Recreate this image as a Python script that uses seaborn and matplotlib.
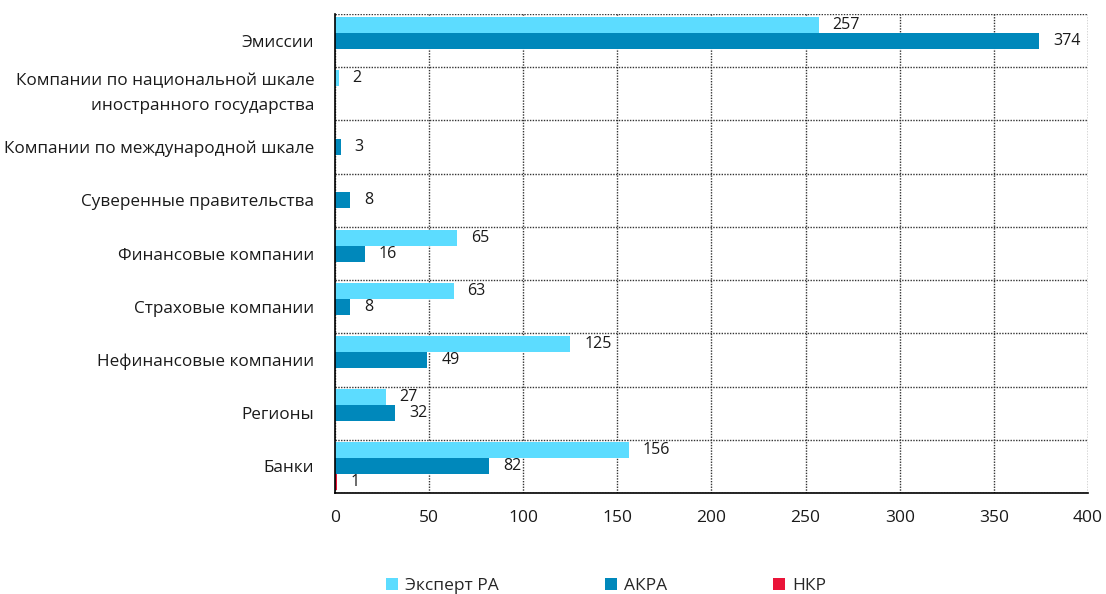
import pandas as pd
import matplotlib
matplotlib.use("Agg")
import matplotlib.pyplot as plt
import seaborn as sns
from matplotlib.patches import Patch
from matplotlib.ticker import FixedLocator

# categories, top to bottom
categories = ['Эмиссии',
              'Компании по национальной шкале\nиностранного государства',
              'Компании по международной шкале',
              'Суверенные правительства',
              'Финансовые компании',
              'Страховые компании',
              'Нефинансовые компании',
              'Регионы',
              'Банки']
agencies = ['Эксперт РА', 'АКРА', 'НКР']
expert_ra = [257, 2, 0, 0, 65, 63, 125, 27, 156]
akra = [374, 0, 3, 8, 16, 8, 49, 32, 82]
nkr = [0, 0, 0, 0, 0, 0, 0, 0, 1]
colors = ['#5cdcff', '#0088bb', '#ea1439']

df = pd.DataFrame({
    'category': categories * 3,
    'agency': [a for a in agencies for _ in categories],
    'value': expert_ra + akra + nkr,
})

sns.set_style('white')
plt.rcParams['font.family'] = ['Open Sans', 'DejaVu Sans']

fig = plt.figure(figsize=(11.06, 5.94), dpi=100)
ax = fig.add_axes([0.3029, 0.170, 0.6808, 0.8064])

sns.barplot(data=df, y='category', x='value', hue='agency', order=categories,
            hue_order=agencies, palette=colors, width=0.9, orient='h',
            saturation=1, legend=False, linewidth=0, ax=ax)

# value labels, skip zeros
for cont in ax.containers:
    labels = [f'{int(v)}' if v > 0 else '' for v in cont.datavalues]
    ax.bar_label(cont, labels=labels, padding=10, fontsize=11.5, color='#1a1a1a')

ax.set_xlim(0, 400)
ax.set_xticks(range(0, 401, 50))
ax.set_xlabel('')
ax.set_ylabel('')
ax.tick_params(axis='x', length=0, pad=12, labelsize=12.5, colors='#1a1a1a')
ax.tick_params(axis='y', which='major', length=0, pad=15, labelsize=12.3, colors='#1a1a1a')
for lab in ax.get_yticklabels():
    if '\n' in lab.get_text():
        lab.set_linespacing(1.75)
        lab.set_verticalalignment('center')
ax.yaxis.set_minor_locator(FixedLocator([i - 0.5 for i in range(len(categories) + 1)]))
ax.tick_params(axis='y', which='minor', length=6, width=1, color='#333333', direction='out')

dots = (0, (1, 1))
ax.grid(axis='x', which='major', linestyle=dots, color='#333333', linewidth=1)
ax.grid(axis='y', which='minor', linestyle=dots, color='#333333', linewidth=1)
ax.grid(axis='y', which='major', visible=False)
ax.set_axisbelow(True)

for side in ['top', 'right']:
    ax.spines[side].set_visible(False)
ax.spines['left'].set_color('black')
ax.spines['bottom'].set_color('black')
ax.spines['left'].set_linewidth(1.2)
ax.spines['bottom'].set_linewidth(1.2)

handles = [Patch(facecolor=c, edgecolor='none') for c in colors]
fig.legend(handles, agencies, loc='lower center', bbox_to_anchor=(0.548, -0.027),
           ncol=3, frameon=False, fontsize=12.5, handlelength=0.7, handleheight=0.7,
           handletextpad=0.4, columnspacing=6.1)

fig.savefig('out.png', dpi=100)
